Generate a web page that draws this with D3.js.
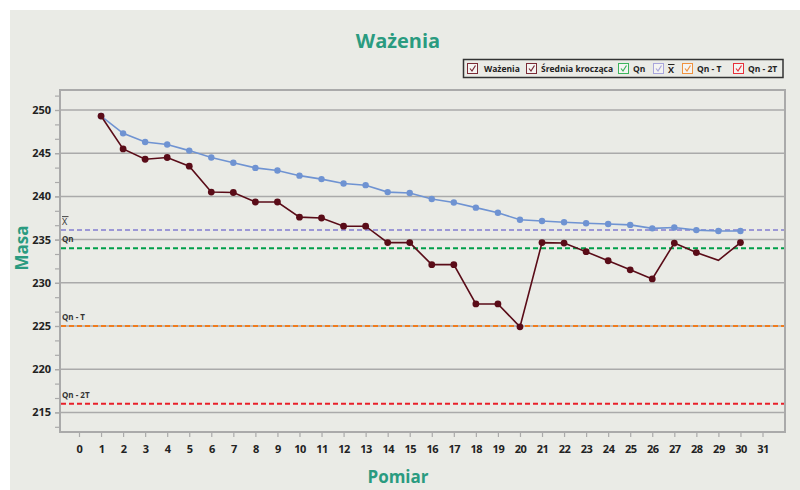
<!DOCTYPE html>
<html><head><meta charset="utf-8">
<script src="https://cdn.jsdelivr.net/npm/d3@7"></script>
<style>
html,body{margin:0;padding:0;background:#fff;}
svg{display:block;font-family:"Open Sans","DejaVu Sans",sans-serif;}
</style></head>
<body>
<svg id="chart" width="800" height="490"></svg>
<script>
// ---- data ----
const pomiar = d3.range(1, 31);
const wazenia = [249.3,245.5,244.3,244.5,243.5,240.5,240.45,239.35,239.35,237.6,
                 237.5,236.55,236.55,234.65,234.65,232.1,232.1,227.55,227.55,224.9,
                 234.65,234.6,233.6,232.55,231.5,230.45,234.6,233.5,232.6,234.65];
const sredniaKroczaca = [249.3,247.3,246.3,246.0,245.3,244.5,243.9,243.3,243.0,242.4,
                 242.0,241.5,241.3,240.5,240.4,239.7,239.3,238.7,238.1,237.3,
                 237.15,237.0,236.9,236.8,236.7,236.3,236.4,236.1,236.0,236.0];
const wazeniaMarkers = [1,1,1,1,1,1,1,1,1,1,1,1,1,1,1,1,1,1,1,1,1,1,1,1,1,1,1,1,0,1];
const refNames  = ["X̄", "Qn", "Qn - T", "Qn - 2T"];
const refValues = [236.1, 234.0, 225.0, 216.0];
const refColors = ["#9c98d6", "#00a04a", "#f07c1e", "#e8202a"];
const legendNames = ["Ważenia", "Średnia krocząca", "Qn", "X", "Qn - T", "Qn - 2T"];
const legendColors = ["#7a2a35", "#7a2a35", "#3cb55c", "#a9a6dc", "#f0923e", "#e8303a"];
const legendX = [467, 526, 618, 653, 682, 733];
const xTicks = d3.range(0, 32);
const yTicks = [215,220,225,230,235,240,245,250];
const yMinor = d3.range(0, 24).map(i => 213.3333 + i * 5/3);

const teal = "#2a9b80";
const svg = d3.select("#chart");

// background
svg.append("rect").attr("x",0).attr("y",0).attr("width",800).attr("height",490).attr("fill","#fff");
svg.append("rect").attr("x",10).attr("y",10).attr("width",790).attr("height",480).attr("fill","#eaebe6");

const L = 60, T = 90, R = 785, B = 432;
const x = d3.scaleLinear().domain([0, 31]).range([79, 762.5]);
const y = d3.scaleLinear().domain([250, 215]).range([110, 412.4]);

// title
svg.append("text").attr("x",398).attr("y",48).attr("text-anchor","middle")
  .attr("font-size",20).attr("font-weight",700).attr("fill",teal).text("Ważenia");

// gridlines
svg.append("g").selectAll("line").data(yTicks).join("line")
  .attr("x1",L).attr("x2",R).attr("y1",d=>y(d)).attr("y2",d=>y(d))
  .attr("stroke","#aaaaaa").attr("stroke-width",1.5);

// frame
svg.append("rect").attr("x",L).attr("y",T).attr("width",R-L).attr("height",B-T)
  .attr("fill","none").attr("stroke","#aaaaaa").attr("stroke-width",2);

// y axis
const yAxis = d3.axisLeft(y).tickValues(yTicks).tickSize(4).tickPadding(4).tickFormat(d3.format("d"));
const gy = svg.append("g").attr("transform",`translate(${L-1},0)`).call(yAxis);
gy.select(".domain").remove();
gy.selectAll("line").attr("stroke","#aaaaaa").attr("stroke-width",1.2);
gy.selectAll("text").attr("font-size",11).attr("font-weight",700).attr("fill","#222")
  .attr("font-family","'Open Sans',sans-serif");
const yAxisMinor = d3.axisLeft(y).tickValues(yMinor).tickSize(4).tickFormat("");
const gym = svg.append("g").attr("transform",`translate(${L-1},0)`).call(yAxisMinor);
gym.select(".domain").remove();
gym.selectAll("line").attr("stroke","#aaaaaa").attr("stroke-width",1.2);

// x axis
const xAxis = d3.axisBottom(x).tickValues(xTicks).tickSize(4).tickPadding(8).tickFormat(d3.format("d"));
const gx = svg.append("g").attr("transform",`translate(0,${B+1})`).call(xAxis);
gx.select(".domain").remove();
gx.selectAll("line").attr("stroke","#aaaaaa").attr("stroke-width",1.2);
gx.selectAll("text").attr("font-size",11).attr("font-weight",700).attr("fill","#222")
  .attr("font-family","'Open Sans',sans-serif").attr("letter-spacing","-0.5");

// axis titles
svg.append("text").attr("x",398).attr("y",483).attr("text-anchor","middle")
  .attr("font-size",17).attr("font-weight",700).attr("fill",teal).text("Pomiar");
svg.append("text").attr("transform","translate(28,248) rotate(-90)").attr("text-anchor","middle")
  .attr("font-size",17).attr("font-weight",700).attr("fill",teal).text("Masa");

// reference lines
refValues.forEach((v,i) => {
  svg.append("line").attr("x1",L+1).attr("x2",R-1).attr("y1",y(v)).attr("y2",y(v))
    .attr("stroke",refColors[i]).attr("stroke-width",2).attr("stroke-dasharray","5,3");
  if (i === 0) {
    svg.append("text").attr("x",62).attr("y",y(v)-5).attr("font-size",9).attr("font-weight",400)
      .attr("fill","#333").text("X");
    svg.append("line").attr("x1",62).attr("x2",68.5).attr("y1",y(v)-13.5).attr("y2",y(v)-13.5)
      .attr("stroke","#333").attr("stroke-width",0.9);
  } else {
    svg.append("text").attr("x",62).attr("y",y(v)-6).attr("font-size",8).attr("font-weight",700)
      .attr("fill","#333").text(refNames[i]);
  }
});

// moving average line
const line = d3.line().x((d,i)=>x(pomiar[i])).y(d=>y(d));
svg.append("path").datum(sredniaKroczaca).attr("d",line).attr("fill","none")
  .attr("stroke","#6f93d2").attr("stroke-width",1.6);
svg.append("g").selectAll("circle").data(sredniaKroczaca).join("circle")
  .attr("cx",(d,i)=>x(pomiar[i])).attr("cy",d=>y(d)).attr("r",3.2).attr("fill","#6f93d2");

// weighings line
svg.append("path").datum(wazenia).attr("d",line).attr("fill","none")
  .attr("stroke","#5a0c18").attr("stroke-width",1.6);
svg.append("g").selectAll("circle").data(wazenia.map((d,i)=>({v:d,i})).filter(d=>wazeniaMarkers[d.i]))
  .join("circle").attr("cx",d=>x(pomiar[d.i])).attr("cy",d=>y(d.v)).attr("r",3.4).attr("fill","#5a0c18");

// legend
svg.append("rect").attr("x",463.5).attr("y",59.5).attr("width",319.5).attr("height",18)
  .attr("fill","#eaebe6").attr("stroke","#333").attr("stroke-width",1.5);
legendNames.forEach((n,i) => {
  const bx = legendX[i], by = 63;
  svg.append("rect").attr("x",bx+0.5).attr("y",by+0.5).attr("width",10).attr("height",10)
    .attr("fill","#f4f4f2").attr("stroke",legendColors[i]).attr("stroke-width",1);
  svg.append("path").attr("d",`M${bx+3},${by+5.5} L${bx+5},${by+8} L${bx+8.5},${by+2.5}`)
    .attr("fill","none").attr("stroke",legendColors[i]).attr("stroke-width",1.2);
  if (n === "X") {
    svg.append("text").attr("x",bx+15).attr("y",by+9.5).attr("font-size",9).attr("font-weight",700)
      .attr("fill","#222").text("X");
    svg.append("line").attr("x1",bx+15).attr("x2",bx+21.5).attr("y1",by+1.5).attr("y2",by+1.5)
      .attr("stroke","#222").attr("stroke-width",1);
  } else {
    svg.append("text").attr("x",bx+(i===0?17:15)).attr("y",by+9).attr("font-size",8.5).attr("font-weight",700)
      .attr("fill","#222").text(n);
  }
});
</script>
</body></html>
